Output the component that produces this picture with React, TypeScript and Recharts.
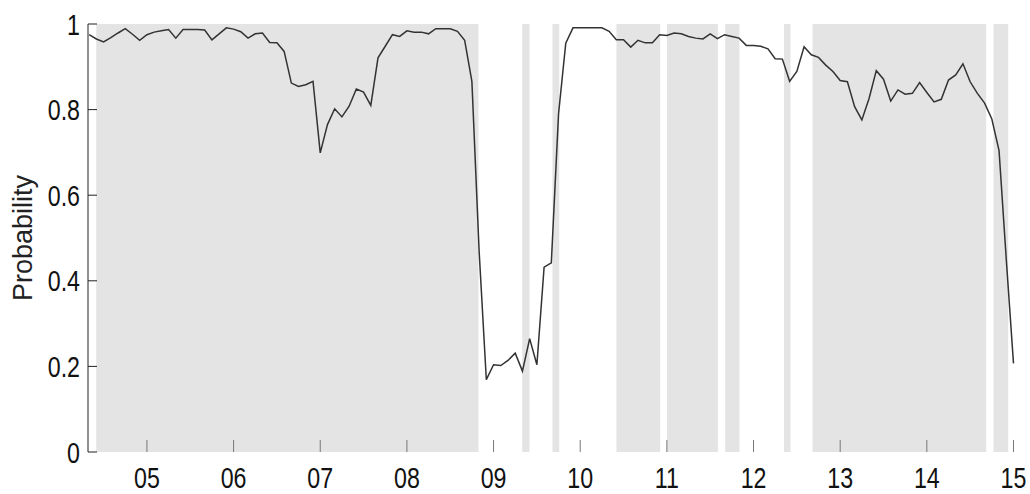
import React from "react";
import { ComposedChart, Line, XAxis, YAxis, ReferenceArea } from "recharts";

// Monthly series starting May 2004 (2004 + 4/12), one value per month
const START_YEAR = 2004 + 4 / 12;
const probability: number[] = [
  0.975, 0.965, 0.958, 0.968, 0.979, 0.989, 0.976, 0.962, 0.975, 0.981,
  0.984, 0.987, 0.967, 0.987, 0.987, 0.987, 0.986, 0.963, 0.977, 0.991,
  0.988, 0.982, 0.967, 0.977, 0.979, 0.957, 0.956, 0.936, 0.862, 0.854,
  0.858, 0.866, 0.699, 0.765, 0.802, 0.783, 0.808, 0.848, 0.841, 0.810,
  0.921, 0.948, 0.975, 0.971, 0.984, 0.981, 0.981, 0.977, 0.989, 0.989,
  0.989, 0.983, 0.962, 0.866, 0.470, 0.169, 0.204, 0.202, 0.214, 0.231,
  0.189, 0.265, 0.204, 0.432, 0.442, 0.790, 0.955, 0.991, 0.991, 0.991,
  0.991, 0.991, 0.983, 0.963, 0.963, 0.946, 0.962, 0.956, 0.956, 0.975,
  0.973, 0.979, 0.977, 0.971, 0.967, 0.965, 0.977, 0.966, 0.975, 0.971,
  0.967, 0.950, 0.950, 0.948, 0.942, 0.919, 0.918, 0.866, 0.889, 0.947,
  0.928, 0.922, 0.904, 0.889, 0.868, 0.865, 0.807, 0.776, 0.826, 0.891,
  0.871, 0.820, 0.846, 0.836, 0.838, 0.863, 0.840, 0.818, 0.824, 0.869,
  0.881, 0.907, 0.865, 0.838, 0.815, 0.778, 0.704, 0.450, 0.207,
];

// Shaded periods (start / end, in years)
const bandStart: number[] = [2004.415, 2009.331, 2009.68, 2010.418, 2011.0, 2011.673, 2012.351, 2012.681, 2014.769];
const bandEnd: number[] = [2008.826, 2009.415, 2009.758, 2010.923, 2011.589, 2011.838, 2012.427, 2014.685, 2014.939];

const xTicks: number[] = [2005, 2006, 2007, 2008, 2009, 2010, 2011, 2012, 2013, 2014, 2015];
const xTickLabels: string[] = ["05", "06", "07", "08", "09", "10", "11", "12", "13", "14", "15"];
const yTicks: number[] = [0, 0.2, 0.4, 0.6, 0.8, 1];
const yTickLabels: string[] = ["0", "0.2", "0.4", "0.6", "0.8", "1"];

const X_DOMAIN: [number, number] = [2004.32, 2015.052];
const FONT = "'Liberation Sans', Arial, Helvetica, sans-serif";
const Y_TICK_MARGIN = 8;
const X_TICK_MARGIN = 8;

const data = probability.map((v, i) => ({ t: START_YEAR + i / 12, v }));

const YTick = (props: any) => {
  const { x, y, payload } = props;
  const axisX = x + Y_TICK_MARGIN;
  const idx = yTicks.indexOf(payload.value);
  const label = idx >= 0 ? yTickLabels[idx] : String(payload.value);
  return (
    <g>
      <line x1={axisX} x2={axisX + 9} y1={y} y2={y} stroke="#222" strokeWidth={1} />
      <g transform={`translate(${axisX - 8},${y + 10.5}) scale(0.8,1)`}>
        <text x={0} y={0} textAnchor="end" fontSize={29} fill="#111" fontFamily={FONT}>
          {label}
        </text>
      </g>
    </g>
  );
};

const XTick = (props: any) => {
  const { x, y, payload } = props;
  const axisY = y - X_TICK_MARGIN;
  const idx = xTicks.indexOf(payload.value);
  const label = idx >= 0 ? xTickLabels[idx] : String(payload.value);
  return (
    <g>
      <line x1={x} x2={x} y1={axisY} y2={axisY - 12} stroke="#777" strokeWidth={1} />
      <g transform={`translate(${x},${axisY + 36}) scale(0.8,1)`}>
        <text x={0} y={0} textAnchor="middle" fontSize={29} fill="#111" fontFamily={FONT}>
          {label}
        </text>
      </g>
    </g>
  );
};

const YLabel = (props: any) => {
  const vb = props.viewBox || { x: 0, y: 24, width: 88, height: 428 };
  const cx = vb.x + 23;
  const cy = vb.y + vb.height / 2;
  return (
    <text
      x={cx}
      y={cy}
      transform={`rotate(-90 ${cx} ${cy})`}
      textAnchor="middle"
      dominantBaseline="central"
      fontSize={27}
      fill="#222"
      fontFamily={FONT}
    >
      Probability
    </text>
  );
};

export default function App() {
  return (
    <div style={{ position: "absolute", left: 0, top: 0, width: 1030, height: 494, background: "#fff" }}>
      <ComposedChart
        width={1030}
        height={494}
        data={data}
        margin={{ top: 24, right: 12, bottom: 0, left: 0 }}
      >
        <XAxis
          dataKey="t"
          type="number"
          domain={X_DOMAIN}
          allowDataOverflow
          ticks={xTicks}
          interval={0}
          axisLine={false}
          tickLine={false}
          tickSize={0}
          tickMargin={X_TICK_MARGIN}
          height={42}
          tick={<XTick />}
        />
        <YAxis
          type="number"
          domain={[0, 1]}
          ticks={yTicks}
          interval={0}
          width={88}
          axisLine={{ stroke: "#222", strokeWidth: 1 }}
          tickLine={false}
          tickSize={0}
          tickMargin={Y_TICK_MARGIN}
          tick={<YTick />}
          label={{ content: <YLabel /> }}
        />
        {bandStart.map((s, i) => (
          <ReferenceArea
            key={`band-${i}`}
            x1={s}
            x2={bandEnd[i]}
            y1={0}
            y2={1}
            fill="#e4e4e4"
            fillOpacity={1}
            stroke="none"
            ifOverflow="hidden"
          />
        ))}
        <Line
          type="linear"
          dataKey="v"
          stroke="#333"
          strokeWidth={1.5}
          dot={false}
          activeDot={false}
          isAnimationActive={false}
        />
      </ComposedChart>
    </div>
  );
}
